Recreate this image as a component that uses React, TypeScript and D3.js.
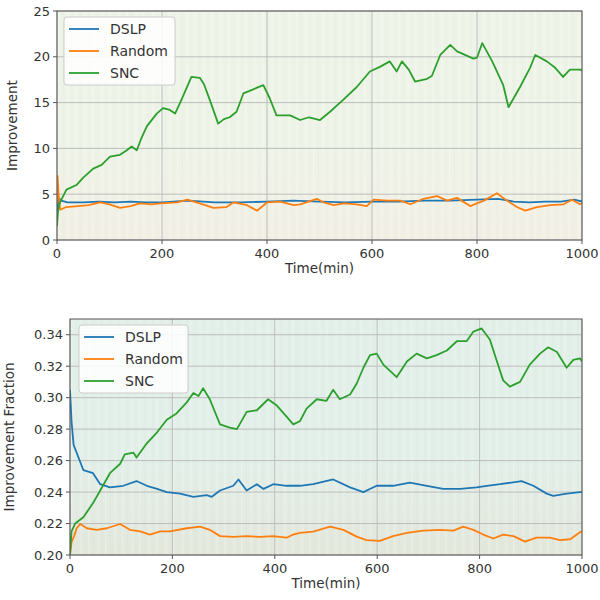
import React from 'react';
import * as d3 from 'd3';

// ---- top panel: Improvement ----
const topSncT = [0, 2, 5, 10, 18, 37, 50, 69, 85, 101, 120, 133, 142, 152, 160, 171, 190, 202, 215, 225, 237, 256, 272, 280, 291, 307, 318, 329, 342, 355, 380, 393, 405, 418, 444, 463, 480, 501, 520, 545, 571, 596, 615, 634, 647, 657, 670, 682, 705, 714, 730, 749, 762, 774, 793, 800, 810, 829, 850, 860, 882, 901, 911, 933, 949, 964, 977, 996, 1000];
const topSncV = [1.5, 3.2, 4.0, 4.6, 5.5, 6.0, 6.8, 7.8, 8.2, 9.1, 9.3, 9.8, 10.2, 9.8, 11.0, 12.4, 13.8, 14.4, 14.2, 13.8, 15.3, 17.8, 17.7, 17.0, 15.3, 12.7, 13.2, 13.4, 14.0, 16.0, 16.6, 16.9, 15.5, 13.6, 13.6, 13.1, 13.4, 13.1, 14.0, 15.3, 16.7, 18.4, 18.9, 19.5, 18.4, 19.5, 18.6, 17.3, 17.6, 17.9, 20.2, 21.3, 20.6, 20.3, 19.8, 19.9, 21.5, 19.5, 16.9, 14.5, 16.7, 18.8, 20.2, 19.5, 18.8, 17.8, 18.6, 18.6, 18.5];

const topDslpT = [0, 3, 8, 20, 50, 80, 110, 140, 170, 200, 250, 300, 350, 400, 450, 500, 550, 600, 650, 700, 750, 800, 840, 870, 900, 930, 960, 985, 1000];
const topDslpV = [3.0, 4.6, 4.3, 4.1, 4.1, 4.2, 4.1, 4.2, 4.1, 4.1, 4.3, 4.1, 4.1, 4.2, 4.3, 4.2, 4.1, 4.2, 4.2, 4.3, 4.3, 4.4, 4.5, 4.2, 4.1, 4.2, 4.2, 4.4, 4.2];

const topRandT = [0, 1, 3, 6, 18, 40, 60, 82, 100, 120, 140, 158, 180, 197, 229, 248, 272, 298, 323, 336, 362, 381, 400, 425, 451, 463, 495, 508, 527, 546, 571, 590, 603, 629, 654, 673, 698, 724, 743, 762, 787, 813, 838, 857, 876, 892, 914, 940, 965, 981, 996, 1000];
const topRandV = [4.0, 7.0, 5.0, 3.3, 3.6, 3.7, 3.8, 4.1, 3.9, 3.5, 3.7, 4.0, 3.9, 4.0, 4.1, 4.4, 4.0, 3.5, 3.6, 4.1, 3.8, 3.2, 4.1, 4.2, 3.8, 3.9, 4.5, 4.1, 3.8, 4.0, 3.9, 3.7, 4.4, 4.3, 4.3, 3.9, 4.5, 4.8, 4.3, 4.6, 3.7, 4.3, 5.1, 4.3, 3.6, 3.2, 3.6, 3.8, 3.9, 4.4, 3.9, 4.0];

// ---- bottom panel: Improvement Fraction ----
const botSncT = [0, 3, 10, 26, 45, 59, 78, 98, 107, 124, 130, 150, 170, 189, 208, 228, 241, 251, 260, 273, 293, 312, 326, 345, 365, 387, 404, 423, 436, 449, 462, 482, 501, 514, 527, 547, 560, 573, 586, 599, 612, 625, 638, 658, 677, 697, 716, 736, 756, 775, 788, 804, 820, 833, 846, 859, 879, 898, 918, 934, 951, 970, 983, 996, 1000];
const botSncV = [0.200, 0.215, 0.220, 0.224, 0.233, 0.241, 0.252, 0.258, 0.264, 0.265, 0.262, 0.271, 0.278, 0.286, 0.290, 0.297, 0.303, 0.301, 0.306, 0.299, 0.283, 0.281, 0.280, 0.291, 0.292, 0.299, 0.295, 0.288, 0.283, 0.285, 0.293, 0.299, 0.298, 0.305, 0.299, 0.302, 0.309, 0.319, 0.327, 0.328, 0.321, 0.317, 0.313, 0.323, 0.328, 0.325, 0.327, 0.330, 0.336, 0.336, 0.342, 0.344, 0.337, 0.324, 0.311, 0.307, 0.310, 0.321, 0.328, 0.332, 0.329, 0.319, 0.324, 0.325, 0.323];

const botDslpT = [0, 3, 7, 13, 26, 45, 59, 78, 104, 130, 150, 170, 189, 215, 241, 267, 277, 293, 319, 329, 345, 365, 378, 397, 423, 449, 475, 514, 547, 573, 599, 631, 664, 697, 729, 762, 794, 814, 840, 882, 905, 931, 944, 970, 996, 1000];
const botDslpV = [0.305, 0.285, 0.270, 0.265, 0.254, 0.252, 0.245, 0.243, 0.244, 0.247, 0.244, 0.242, 0.240, 0.239, 0.237, 0.238, 0.237, 0.241, 0.244, 0.248, 0.241, 0.245, 0.242, 0.245, 0.244, 0.244, 0.245, 0.248, 0.243, 0.240, 0.244, 0.244, 0.246, 0.244, 0.242, 0.242, 0.243, 0.244, 0.245, 0.247, 0.244, 0.239, 0.2376, 0.239, 0.240, 0.240];

const botRandT = [0, 3, 8, 13, 20, 33, 52, 72, 98, 117, 137, 156, 176, 195, 228, 254, 273, 293, 319, 345, 371, 397, 423, 436, 449, 475, 508, 534, 560, 579, 605, 631, 658, 690, 723, 749, 768, 788, 807, 827, 846, 866, 889, 911, 937, 957, 977, 996, 1000];
const botRandV = [0.200, 0.208, 0.212, 0.217, 0.2197, 0.217, 0.216, 0.217, 0.2197, 0.216, 0.215, 0.213, 0.215, 0.215, 0.217, 0.218, 0.216, 0.212, 0.2115, 0.212, 0.2115, 0.212, 0.211, 0.213, 0.214, 0.2148, 0.218, 0.216, 0.2117, 0.2095, 0.209, 0.212, 0.214, 0.2155, 0.216, 0.2155, 0.218, 0.216, 0.213, 0.2105, 0.213, 0.212, 0.2085, 0.211, 0.211, 0.2095, 0.210, 0.2145, 0.215];

const xTicks = [0, 200, 400, 600, 800, 1000];
const topYTicks = [0, 5, 10, 15, 20, 25];
const botYTicks = [0.20, 0.22, 0.24, 0.26, 0.28, 0.30, 0.32, 0.34];
const seriesNames = ['DSLP', 'Random', 'SNC'];
const colors = ['#1f77b4', '#ff7f0e', '#2ca02c'];

const zip = (t: number[], v: number[]) => t.map((d, i) => [d, v[i]] as [number, number]);

const font = "'DejaVu Sans', sans-serif";
const axisColor = '#555';
const textColor = '#333';

type PanelProps = {
  id: string;
  left: number; right: number; top: number; bottom: number;
  yDomain: [number, number];
  yTicks: number[];
  yFormat: (d: number) => string;
  yLabel: string;
  yLabelX: number;
  series: [number, number][][];
  legend: { x: number; y: number; w: number };
  bgTop: string; bgBottom: string;
};

const Panel = (p: PanelProps) => {
  const x = d3.scaleLinear().domain([0, 1000]).range([p.left, p.right]);
  const y = d3.scaleLinear().domain(p.yDomain).range([p.bottom, p.top]);
  const line = d3.line<[number, number]>().x(d => x(d[0])).y(d => y(d[1]));
  return (
    <g>
      <defs>
        <linearGradient id={p.id + 'bg'} x1="0" y1="0" x2="0" y2="1">
          <stop offset="0" stopColor={p.bgTop} />
          <stop offset="0.6" stopColor={p.bgTop} />
          <stop offset="1" stopColor={p.bgBottom} />
        </linearGradient>
        {/* very faint vertical streaks, like the raw samples behind the curves */}
        <pattern id={p.id + 'streak'} x={p.left} y={0} width={17} height={10} patternUnits="userSpaceOnUse">
          <rect x={1} y={0} width={1.5} height={10} fill="#fff" fillOpacity={0.22} />
          <rect x={6} y={0} width={1} height={10} fill="#6fae6a" fillOpacity={0.035} />
          <rect x={10} y={0} width={2.5} height={10} fill="#fff" fillOpacity={0.15} />
          <rect x={14.5} y={0} width={0.8} height={10} fill="#6fae6a" fillOpacity={0.03} />
        </pattern>
        <clipPath id={p.id + 'clip'}>
          <rect x={p.left} y={p.top} width={p.right - p.left} height={p.bottom - p.top} />
        </clipPath>
      </defs>
      <rect x={p.left} y={p.top} width={p.right - p.left} height={p.bottom - p.top} fill={`url(#${p.id}bg)`} />
      <rect x={p.left} y={p.top} width={p.right - p.left} height={p.bottom - p.top} fill={`url(#${p.id}streak)`} />
      {/* grid */}
      {xTicks.map(t => (
        <line key={'gx' + t} x1={x(t)} x2={x(t)} y1={p.top} y2={p.bottom} stroke="#b8b8b8" strokeWidth={0.9} />
      ))}
      {p.yTicks.map(t => (
        <line key={'gy' + t} x1={p.left} x2={p.right} y1={y(t)} y2={y(t)} stroke="#b8b8b8" strokeWidth={0.9} />
      ))}
      {/* lines */}
      <g clipPath={`url(#${p.id}clip)`}>
        {p.series.map((s, i) => (
          <path key={i} d={line(s) || ''} fill="none" stroke={colors[i]} strokeWidth={1.8} strokeLinejoin="round" />
        ))}
      </g>
      {/* frame */}
      <rect x={p.left} y={p.top} width={p.right - p.left} height={p.bottom - p.top} fill="none" stroke={axisColor} strokeWidth={1} />
      {/* x ticks */}
      {xTicks.map(t => (
        <g key={'tx' + t}>
          <line x1={x(t)} x2={x(t)} y1={p.bottom} y2={p.bottom + 4} stroke={axisColor} />
          <text x={x(t)} y={p.bottom + 18} textAnchor="middle" fontSize={13} fill={textColor} fontFamily={font}>{t}</text>
        </g>
      ))}
      {p.yTicks.map(t => (
        <g key={'ty' + t}>
          <line x1={p.left - 4} x2={p.left} y1={y(t)} y2={y(t)} stroke={axisColor} />
          <text x={p.left - 7} y={y(t) + 4.5} textAnchor="end" fontSize={13} fill={textColor} fontFamily={font}>{p.yFormat(t)}</text>
        </g>
      ))}
      <text x={(p.left + p.right) / 2} y={p.bottom + 33} textAnchor="middle" fontSize={13.5} fill={textColor} fontFamily={font}>Time(min)</text>
      <text transform={`translate(${p.yLabelX},${(p.top + p.bottom) / 2}) rotate(-90)`} textAnchor="middle" fontSize={13.5} fill={textColor} fontFamily={font}>{p.yLabel}</text>
      {/* legend */}
      <g transform={`translate(${p.legend.x},${p.legend.y})`}>
        <rect x={0} y={0} width={p.legend.w} height={68} rx={3} fill="#fff" fillOpacity={0.85} stroke="#ccc" />
        {seriesNames.map((n, i) => (
          <g key={n} transform={`translate(0,${12 + i * 22})`}>
            <line x1={5} x2={35} y1={0} y2={0} stroke={colors[i]} strokeWidth={1.8} />
            <text x={46} y={5} fontSize={14} fill={textColor} fontFamily={font}>{n}</text>
          </g>
        ))}
      </g>
    </g>
  );
};

const App = () => {
  return (
    <svg width={600} height={600} style={{ position: 'absolute', left: 0, top: 0, background: '#fff' }}>
      <Panel
        id="top"
        left={57} right={582} top={11} bottom={240}
        yDomain={[0, 25]}
        yTicks={topYTicks}
        yFormat={d => String(d)}
        yLabel="Improvement"
        yLabelX={17}
        series={[zip(topDslpT, topDslpV), zip(topRandT, topRandV), zip(topSncT, topSncV)]}
        legend={{ x: 64, y: 17, w: 111 }}
        bgTop="#eef3e7"
        bgBottom="#f2efe5"
      />
      <Panel
        id="bot"
        left={70} right={582} top={319} bottom={555}
        yDomain={[0.2, 0.35]}
        yTicks={botYTicks}
        yFormat={d => d.toFixed(2)}
        yLabel="Improvement Fraction"
        yLabelX={14}
        series={[zip(botDslpT, botDslpV), zip(botRandT, botRandV), zip(botSncT, botSncV)]}
        legend={{ x: 79, y: 325, w: 109 }}
        bgTop="#e3efe9"
        bgBottom="#e3e7db"
      />
    </svg>
  );
};

export default App;
